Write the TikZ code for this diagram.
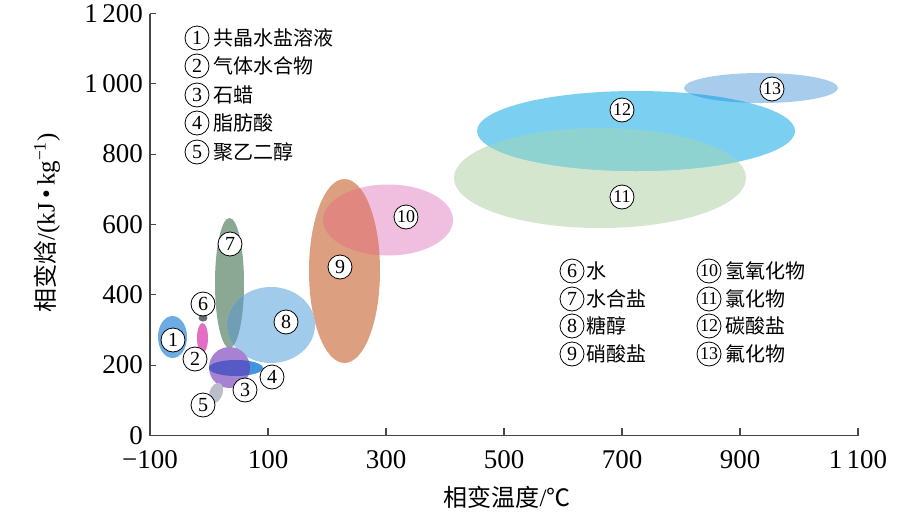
\documentclass[tikz,border=0pt]{standalone}
\usepackage{fontspec}
\setmainfont{Liberation Serif}
\newfontfamily\cjk{Noto Sans CJK SC}
\definecolor{c1}{RGB}{108,172,226}
\definecolor{c2}{RGB}{228,110,196}
\definecolor{c3}{RGB}{168,130,210}
\definecolor{c4}{RGB}{66,148,222}
\definecolor{c34}{RGB}{86,90,196}
\definecolor{c5}{RGB}{186,190,200}
\definecolor{c6}{RGB}{100,106,112}
\definecolor{c7}{RGB}{138,168,148}
\definecolor{c8}{RGB}{160,203,235}
\definecolor{c78}{RGB}{112,158,178}
\definecolor{c9}{RGB}{220,160,128}
\definecolor{c10}{RGB}{240,190,222}
\definecolor{c910}{RGB}{224,135,128}
\definecolor{c11}{RGB}{212,230,205}
\definecolor{c12}{RGB}{123,208,242}
\definecolor{c1112}{RGB}{143,211,208}
\definecolor{c13}{RGB}{168,204,236}
\definecolor{c1213}{RGB}{80,180,232}
\definecolor{axisgray}{RGB}{70,70,70}
\begin{document}
\begin{tikzpicture}[x=1pt,y=-1pt,
  axisline/.style={draw=axisgray, line width=1.1pt},
  lab/.style={circle, draw=black, line width=0.8pt, fill=white, inner sep=0pt,
    minimum size=24pt, font=\fontsize{20}{20}\selectfont},
  labtwo/.style={lab, font=\fontsize{18}{18}\selectfont},
  legnum/.style={lab},
  legtwo/.style={labtwo},
  legtxt/.style={anchor=west, inner sep=0pt, font=\cjk\fontsize{20}{20}\selectfont},
  ticklab/.style={inner sep=0pt, text height=17.5pt, text depth=0pt, font=\fontsize{27}{27}\selectfont}
]
\useasboundingbox[fill=white] (0,0) rectangle (922,520);

% ---- ellipses ----
\fill[c11] (600,178) ellipse [x radius=146pt, y radius=50pt];
\fill[c12] (636,131) ellipse [x radius=159pt, y radius=40pt];
\begin{scope}
  \clip (600,178) ellipse [x radius=146pt, y radius=50pt];
  \fill[c1112] (636,131) ellipse [x radius=159pt, y radius=40pt];
\end{scope}
\fill[c13] (761,88) ellipse [x radius=77pt, y radius=15pt];
\begin{scope}
  \clip (761,88) ellipse [x radius=77pt, y radius=15pt];
  \fill[c1213] (636,131) ellipse [x radius=159pt, y radius=40pt];
\end{scope}
\fill[c10] (388,220) ellipse [x radius=65pt, y radius=35.5pt];
\fill[c9] (344.5,271) ellipse [x radius=35.5pt, y radius=92pt];
\begin{scope}
  \clip (344.5,271) ellipse [x radius=35.5pt, y radius=92pt];
  \fill[c910] (388,220) ellipse [x radius=65pt, y radius=35.5pt];
\end{scope}
\fill[c7] (229.5,283) ellipse [x radius=14.5pt, y radius=65pt];
\fill[c8] (271,325) ellipse [x radius=44pt, y radius=38pt];
\begin{scope}
  \clip (271,325) ellipse [x radius=44pt, y radius=38pt];
  \fill[c78] (229.5,283) ellipse [x radius=14.5pt, y radius=65pt];
\end{scope}
\fill[c1] (172.5,337) ellipse [x radius=14.5pt, y radius=21pt];
\fill[c2] (202.5,338) ellipse [x radius=5.5pt, y radius=15pt];
\fill[c3] (229.5,367.5) circle [radius=20.5pt];
\fill[c4] (236,368) ellipse [x radius=27pt, y radius=8pt];
\begin{scope}
  \clip (229.5,367.5) circle [radius=20.5pt];
  \fill[c34] (236,368) ellipse [x radius=27pt, y radius=8pt];
\end{scope}
\fill[c5, rotate around={-20:(216,393)}] (216,393) ellipse [x radius=6.5pt, y radius=10.5pt];
\fill[c6] (203,318) ellipse [x radius=4.5pt, y radius=3.5pt];

% ---- axes ----
\coordinate (O) at (150,435.5);
\coordinate (Ytop) at (150,13.5);
\coordinate (Xend) at (858,435.5);
\draw[axisline] (Ytop) -- (O) -- (Xend);
\foreach \v/\yy in {0/435.5, 200/365.2, 400/294.8, 600/224.5, 800/154.2, 1\,000/83.8, 1\,200/13.5}{
  \draw[axisline] (150,\yy) -- (156,\yy);
  \node[ticklab, anchor=base east] at (143,\yy+8.6) {\v};
}
\foreach \v/\xx in {{−100}/150, 100/268, 300/386, 500/504, 700/622, 900/740, {1\,100}/858}{
  \draw[axisline] (\xx,435.5) -- (\xx,427.5);
  \node[ticklab, anchor=base] at (\xx,468.5) {\v};
}
\node[rotate=90, inner sep=0pt, font=\fontsize{25}{25}\selectfont] (ylab) at (47,223)
  {{\cjk\fontsize{24}{24}\selectfont 相变焓}/(kJ\,•\,kg\textsuperscript{−1})};
\node[inner sep=0pt] (xlab) at (507,497)
  {{\cjk\fontsize{24}{24}\selectfont 相变温度}{\fontsize{25}{25}\selectfont /}{\cjk\fontsize{24}{24}\selectfont ℃}};

% ---- ellipse labels ----
\node[lab] (n1) at (173,340) {1};
\node[lab] (n2) at (195,359) {2};
\node[lab] (n3) at (245,390) {3};
\node[lab] (n4) at (272,377) {4};
\node[lab] (n5) at (203,405) {5};
\node[lab] (n6) at (203,304) {6};
\node[lab] (n7) at (230,244) {7};
\node[lab] (n8) at (286,322) {8};
\node[lab] (n9) at (340,267) {9};
\node[labtwo] (n10) at (406,217) {10};
\node[labtwo] (n11) at (622,197) {11};
\node[labtwo] (n12) at (622,110) {12};
\node[labtwo] (n13) at (772,89) {13};

% ---- legend 1 ----
\node[legnum] (l1) at (197,38) {1};
\node[legtxt] (t1) at (213,38) {共晶水盐溶液};
\node[legnum] (l2) at (197,66) {2};
\node[legtxt] (t2) at (213,66) {气体水合物};
\node[legnum] (l3) at (197,95) {3};
\node[legtxt] (t3) at (213,95) {石蜡};
\node[legnum] (l4) at (197,123) {4};
\node[legtxt] (t4) at (213,123) {脂肪酸};
\node[legnum] (l5) at (197,152) {5};
\node[legtxt] (t5) at (213,152) {聚乙二醇};

% ---- legend 2 ----
\node[legnum] (l6) at (572,271) {6};
\node[legtxt] (t6) at (586,271) {水};
\node[legnum] (l7) at (572,299) {7};
\node[legtxt] (t7) at (586,299) {水合盐};
\node[legnum] (l8) at (572,326) {8};
\node[legtxt] (t8) at (586,326) {糖醇};
\node[legnum] (l9) at (572,354) {9};
\node[legtxt] (t9) at (586,354) {硝酸盐};
\node[legtwo] (l10) at (709,271) {10};
\node[legtxt] (t10) at (725,271) {氢氧化物};
\node[legtwo] (l11) at (709,299) {11};
\node[legtxt] (t11) at (725,299) {氯化物};
\node[legtwo] (l12) at (709,326) {12};
\node[legtxt] (t12) at (725,326) {碳酸盐};
\node[legtwo] (l13) at (709,354) {13};
\node[legtxt] (t13) at (725,354) {氟化物};
\end{tikzpicture}
\end{document}
